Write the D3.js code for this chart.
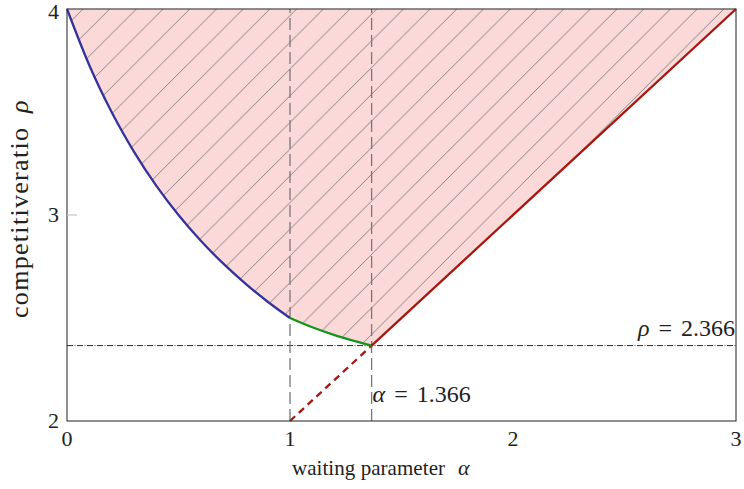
<!DOCTYPE html>
<html><head><meta charset="utf-8">
<script src="https://cdn.jsdelivr.net/npm/d3@7"></script>
<style>body{margin:0;background:#fff}text{font-family:"Liberation Serif","DejaVu Serif",serif;fill:#222}</style>
</head><body><svg id="c" width="744" height="489"></svg>
<script>
// data
const xTicks = [0, 1, 2, 3];
const yTicks = [2, 3, 4];
const blueAlpha = [0, 0.1, 0.2, 0.3, 0.4, 0.5, 0.6, 0.7, 0.8, 0.9, 1.0];
const blueRho   = [4.0, 3.727, 3.5, 3.308, 3.143, 3.0, 2.875, 2.765, 2.667, 2.579, 2.5];
const greenAlpha = [1.0, 1.1, 1.2, 1.3, 1.366];
const greenRho   = [2.5, 2.455, 2.417, 2.385, 2.366];
const redAlpha = [1.366, 3];
const redRho   = [2.366, 4];
const redDashAlpha = [1, 1.366];
const redDashRho   = [2, 2.366];
const vLines = [1, 1.366];
const hLine = 2.366;
const alphaStar = 1.366;

const svg = d3.select("#c");
const L = 67, R = 736, T = 9, B = 421;
const x = d3.scaleLinear().domain([0, 3]).range([L, R]);
const y = d3.scaleLinear().domain([2, 4]).range([B, T]);
const zip = (a, b) => a.map((v, i) => [v, b[i]]);
const line = d3.line().x(d => x(d[0])).y(d => y(d[1]));
const smooth = d3.line().x(d => x(d[0])).y(d => y(d[1])).curve(d3.curveMonotoneX);

const defs = svg.append("defs");
const s = 26.7;
const pat = defs.append("pattern").attr("id", "hatch").attr("patternUnits", "userSpaceOnUse")
  .attr("width", s).attr("height", s).attr("patternTransform", "translate(11.9,0)");
pat.append("rect").attr("width", s).attr("height", s).attr("fill", "#fcd9d9");
pat.append("path").attr("d", `M-2,${s+2}L${s+2},-2M${-s-2},${s+2}L2,-2M${s-2},${2*s+2}L${2*s+2},-2`)
  .attr("stroke", "#808080").attr("stroke-width", 0.95).attr("fill", "none");

// hatched region above the boundary curves
const fillPath = smooth(zip(blueAlpha, blueRho)) + smooth(zip(greenAlpha, greenRho)).replace(/^M/, "L") +
  line(zip(redAlpha, redRho)).replace(/^M/, "L") + `L${x(0)},${y(4)}Z`;
svg.append("path").attr("d", fillPath).attr("fill", "url(#hatch)");

// horizontal dash-dotted line
svg.append("line").attr("x1", x(0)).attr("x2", x(3)).attr("y1", y(hLine)).attr("y2", y(hLine))
  .attr("stroke", "#111").attr("stroke-width", 0.9).attr("stroke-dasharray", "6,1.5,1,1.5");

// vertical dashed lines
svg.selectAll(".vl").data(vLines).join("line").attr("class", "vl")
  .attr("x1", d => x(d)).attr("x2", d => x(d)).attr("y1", y(2)).attr("y2", y(4))
  .attr("stroke", "#777").attr("stroke-width", 1.3).attr("stroke-dasharray", "12,5");

// curves
svg.append("path").attr("d", line(zip(redDashAlpha, redDashRho))).attr("fill", "none")
  .attr("stroke", "#a5170f").attr("stroke-width", 2.3).attr("stroke-dasharray", "7,5");
svg.append("path").attr("d", smooth(zip(blueAlpha, blueRho))).attr("fill", "none")
  .attr("stroke", "#33339b").attr("stroke-width", 2.3);
svg.append("path").attr("d", smooth(zip(greenAlpha, greenRho))).attr("fill", "none")
  .attr("stroke", "#12961a").attr("stroke-width", 2.3);
svg.append("path").attr("d", line(zip(redAlpha, redRho))).attr("fill", "none")
  .attr("stroke", "#a5170f").attr("stroke-width", 2.3);

// frame
svg.append("rect").attr("x", L).attr("y", T).attr("width", R - L).attr("height", B - T)
  .attr("fill", "none").attr("stroke", "#333").attr("stroke-width", 1.1);
// inner ticks (light)
svg.selectAll(".yt").data(yTicks.filter(d => d > 2 && d < 4)).join("line")
  .attr("x1", L).attr("x2", L + 10).attr("y1", d => y(d)).attr("y2", d => y(d))
  .attr("stroke", "#bbb").attr("stroke-width", 1);

// tick labels
svg.selectAll(".xl").data(xTicks).join("text").attr("class", "xl")
  .attr("x", d => x(d)).attr("y", 446).attr("text-anchor", "middle").attr("font-size", 22).text(d => d);
svg.selectAll(".yl").data(yTicks).join("text").attr("class", "yl")
  .attr("x", 59).attr("y", d => Math.max(y(d) + 7, 19)).attr("text-anchor", "end").attr("font-size", 22).text(d => d);

// axis labels
svg.append("text").attr("x", 292).attr("y", 475).attr("font-size", 21)
  .attr("textLength", 153).attr("lengthAdjust", "spacing").text("waiting parameter");
svg.append("text").attr("x", 458).attr("y", 475).attr("font-size", 22).attr("font-style", "italic").text("α");
svg.append("text").attr("transform", "translate(28,318) rotate(-90)").attr("font-size", 26)
  .attr("textLength", 190).attr("lengthAdjust", "spacing").text("competitiveratio");
svg.append("text").attr("transform", "translate(28,113) rotate(-90)").attr("font-size", 26)
  .attr("font-style", "italic").text("ρ");

// annotations
const a1 = svg.append("text").attr("x", x(3) - 1).attr("y", y(hLine) - 10).attr("text-anchor", "end").attr("font-size", 24);
a1.append("tspan").attr("font-style", "italic").text("ρ");
a1.append("tspan").attr("dx", 9).text("=");
a1.append("tspan").attr("dx", 9).text(hLine.toFixed(3));
const a2 = svg.append("text").attr("x", x(alphaStar) + 1).attr("y", 402).attr("font-size", 24);
a2.append("tspan").attr("font-style", "italic").text("α");
a2.append("tspan").attr("dx", 9).text("=");
a2.append("tspan").attr("dx", 9).text(alphaStar.toFixed(3));
</script></body></html>
